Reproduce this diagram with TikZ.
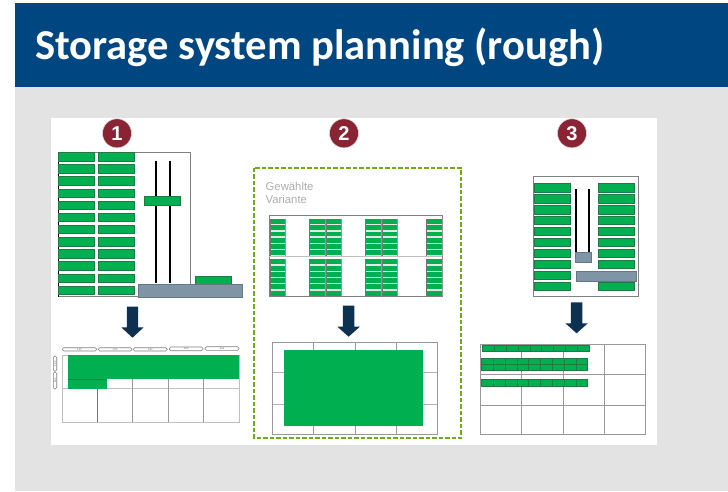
\documentclass[tikz,border=0pt]{standalone}
\usepackage{fontspec}
\setmainfont{Liberation Sans}
\newfontfamily\titlefont{Carlito}[BoldFont={Carlito Bold}]
\definecolor{banner}{HTML}{004680}
\definecolor{panelgray}{HTML}{E3E3E3}
\definecolor{rackgreen}{HTML}{00AF50}
\definecolor{rackedge}{HTML}{1F7A45}
\definecolor{maroon}{HTML}{8A2333}
\definecolor{navyarrow}{HTML}{0E3150}
\definecolor{steel}{HTML}{7F95A5}
\definecolor{dashgreen}{HTML}{6FAB12}
\tikzset{
  rackbox/.style={fill=rackgreen,draw=rackedge,line width=0.5pt},
  flatgreen/.style={fill=rackgreen,draw=none},
  steelbox/.style={fill=steel,draw=steel!80!black,line width=0.4pt},
  framebox/.style={draw=black!50,line width=1pt},
  gridline/.style={draw=black!40,line width=1pt},
  railbar/.style={draw=black,line width=2.4pt},
  numdot/.style={circle,fill=maroon,draw=black!15,line width=0.5pt,minimum size=29pt,inner sep=0pt,text=white,font=\fontsize{20}{20}\selectfont\bfseries},
  bigarrow/.style={fill=navyarrow,draw=none},
  pill/.style={draw=black!50,fill=white,rounded corners=1.5pt,line width=0.6pt},
  pilltext/.style={inner sep=0pt,text=black!55,font=\fontsize{3}{3}\selectfont},
}
\newcommand{\downblock}[4]{% tip x, top y, shaft bottom y, tip y
  \fill[bigarrow] (#1-5.7,#2) -- (#1+5.7,#2) -- (#1+5.7,#3) -- (#1+11.2,#3) -- (#1,#4) -- (#1-11.2,#3) -- (#1-5.7,#3) -- cycle;
}
\begin{document}
\begin{tikzpicture}[x=1pt,y=-1pt]
\useasboundingbox (0,0) rectangle (728,491);
\fill[white] (0,0) rectangle (728,491);
% slide
\fill[panelgray] (15,87) rectangle (728,491);
\fill[banner] (15,3) rectangle (728,87);
\node[anchor=base west,inner sep=0pt,text=white,font=\titlefont\fontsize{42.6}{42.6}\selectfont\bfseries] (title) at (35,59) {Storage system planning (rough)};
\fill[white] (51,118) rectangle (657,445);
% number badges
\node[numdot] (n1) at (117,133.3) {1};
\node[numdot] (n2) at (344,133.3) {2};
\node[numdot] (n3) at (572,133.3) {3};

% ---------- variant 1 : side view
\draw[framebox] (190,152) -- (58,152) -- (58,296.5) -- (241,296.5);
\draw[framebox] (190,152) -- (190,285);
\draw[black,line width=1pt] (58,152) -- (58,296.5);
\foreach \i in {0,...,11}{
  \draw[rackbox] (58.5,{152.3+12.15*\i}) rectangle (94,{160.8+12.15*\i});
  \draw[rackbox] (98.7,{152.3+12.15*\i}) rectangle (134,{160.8+12.15*\i});
}
\draw[railbar] (155.7,160.7) -- (155.7,283);
\draw[railbar] (169.7,160.7) -- (169.7,283);
\draw[rackbox] (144.3,196.3) rectangle (180.3,205);
\draw[rackbox] (195.7,276) rectangle (231,284.5);
\draw[steelbox] (138.3,284.3) rectangle (241.7,296.7);
\downblock{132.5}{306.7}{327.3}{337.7}
% plan 1
\foreach \a/\b/\t/\u in {62.3/96.7/347.7/351,98.3/132/347.7/351,133.3/167.3/347.7/351,169.3/203/347/350.7,205/239/346.7/350.3}{
  \draw[pill] (\a,\t) rectangle (\b,\u);
  \node[pilltext] at ({(\a+\b)/2},{(\t+\u)/2}) {12x};
}
\foreach \t/\u in {356/371.3,372/389}{
  \draw[pill] (53.3,\t) rectangle (56.7,\u);
  \node[pilltext,rotate=90] at (55,{(\t+\u)/2}) {12x};
}
\draw[gridline,draw=black!25] (62.3,355) rectangle (239,422.3);
\draw[gridline,draw=black!25] (62.3,388.7) -- (239,388.7);
\foreach \x in {132.7,168,203.7} \draw[gridline] (\x,379) -- (\x,422.3);
\draw[gridline,draw=black!55] (97.7,388.7) -- (97.7,422.3);
\fill[flatgreen,fill=rackgreen] (68.3,355) rectangle (239.3,379);
\fill[flatgreen] (68.3,379) rectangle (106.7,389);
\draw[rackedge,line width=0.4pt] (68.3,379) -- (106.7,379);

% ---------- variant 2 : selected
\draw[dashgreen,line width=1.8pt,dash pattern=on 4.5pt off 2pt] (254.3,167.7) rectangle (461,438.3);
\node[anchor=base west,inner sep=0pt,text=black!32,font=\fontsize{11.3}{11.3}\selectfont] (g1) at (265.5,190) {Gewählte};
\node[anchor=base west,inner sep=0pt,text=black!32,font=\fontsize{11.3}{11.3}\selectfont] (g2) at (265.5,203.7) {Variante};
\draw[framebox] (269.3,296.7) -- (269.3,215) -- (442,215) -- (442,296.7) -- cycle;
\draw[draw=black!25,line width=1.5pt] (269.3,256.3) -- (442,256.3);
\foreach \a/\b in {270/285.7,309.7/325.3,326/341.3,365.3/381,382/397.7,426.7/442}{
  \fill[black!10] (\a,219) rectangle (\b,255.5);
  \fill[black!10] (\a,259.4) rectangle (\b,296);
  \foreach \i in {0,...,5}{
    \fill[flatgreen] (\a,{219+6.25*\i}) rectangle (\b,{223.9+6.25*\i});
    \fill[flatgreen] (\a,{259.4+6.25*\i}) rectangle (\b,{264.3+6.25*\i});
  }
  \draw[black!55,line width=0.7pt] (\a,219) -- (\a,255.6) (\a,259.4) -- (\a,296);
  \draw[black!40,line width=0.5pt] (\b,219) -- (\b,255.6) (\b,259.4) -- (\b,296);
}
\downblock{348.6}{305.7}{326.7}{336.7}
% plan 2
\draw[gridline] (272.7,342) rectangle (437.3,434.7);
\foreach \x in {313.7,355,396} \draw[gridline] (\x,342) -- (\x,434.7);
\foreach \y in {372.3,404} \draw[gridline,draw=black!30] (272.7,\y) -- (437.3,\y);
\fill[flatgreen] (283.7,349.7) rectangle (423,426);

% ---------- variant 3 : top view
\draw[framebox] (533.7,176.7) rectangle (638.7,296.7);
\foreach \i in {0,...,9}{
  \draw[rackbox] (534.5,{183.7+10.93*\i}) rectangle (570,{191.9+10.93*\i});
  \draw[rackbox] (598,{183.7+10.93*\i}) rectangle (634.7,{191.9+10.93*\i});
}
\draw[railbar] (575.7,189) -- (575.7,263.3);
\draw[railbar] (588.7,189) -- (588.7,263.3);
\draw[steelbox] (575,252) rectangle (590.7,262);
\draw[steelbox] (575.7,270.7) rectangle (635.7,280.7);
\downblock{576.6}{302.3}{323.3}{333.3}
% plan 3
\draw[gridline] (480.7,344.7) rectangle (645,434.7);
\foreach \x in {521.7,563} \draw[gridline] (\x,351) -- (\x,434.7);
\draw[gridline] (604.3,344.7) -- (604.3,434.7);
\foreach \y in {374.7,405} \draw[gridline] (480.7,\y) -- (645,\y);
\foreach \i in {0,...,8}{
  \draw[rackbox] ({482.7+11.8*\i},345) rectangle ({494.5+11.8*\i},351);
  \draw[rackbox] ({481.5+11.8*\i},358) rectangle ({493.3+11.8*\i},364);
  \draw[rackbox] ({481.5+11.8*\i},364.3) rectangle ({493.3+11.8*\i},370.3);
  \draw[rackbox] ({481.5+11.8*\i},379.7) rectangle ({493.3+11.8*\i},386);
}
\end{tikzpicture}
\end{document}
